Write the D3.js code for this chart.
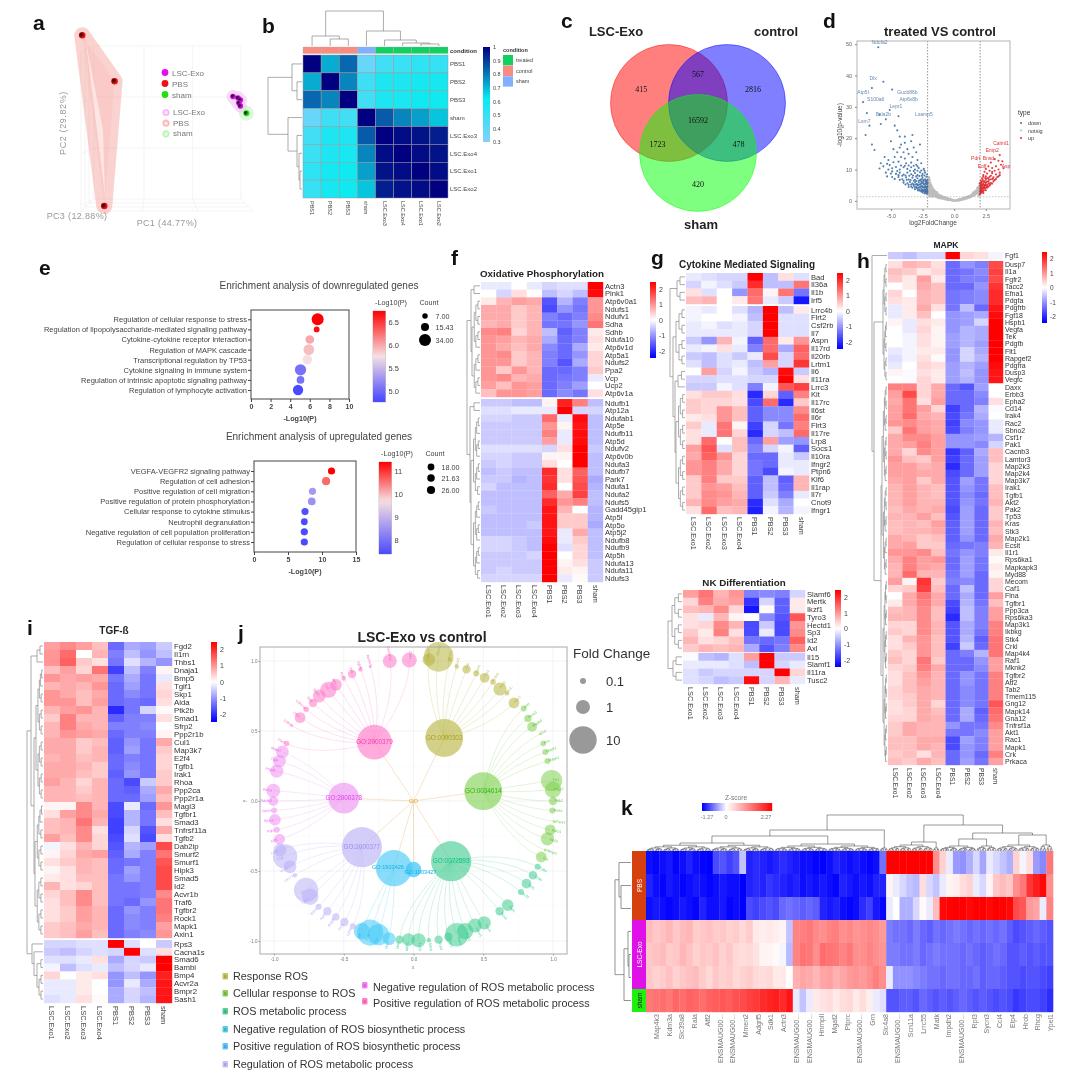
<!DOCTYPE html>
<html>
<head>
<meta charset="utf-8">
<script src="https://d3js.org/d3.v7.min.js"></script>
<style>
html, body { margin: 0; background: #fff; }
svg { display: block; filter: blur(0.5px); }
text { font-family: "Liberation Sans", Arial, sans-serif; }
</style>
</head>
<body>
<svg id="fig" width="1080" height="1086"></svg>
<script>
// ---------- data ----------
var panelLetters = [["a",33,30],["b",262,33],["c",561,28],["d",823,28],["e",39,275],["f",451,265],["g",651,265],["h",857,268],["i",27,635],["j",238,640],["k",621,815]];

var pcaGroups = ["LSC-Exo", "PBS", "sham"];
var pcaColors = ["#e010f0", "#f01010", "#20e010"];
var pbsPC1 = [-58, -36, -43], pbsPC2 = [57, 27, -54.6];
var exoPC1 = [44.6, 48, 49.6, 48.6, 49.6], exoPC2 = [17, 16, 14.7, 12.7, 10.8];
var shamPC1 = [53.7], shamPC2 = [6];

var sampleOrder = ["PBS1","PBS2","PBS3","sham","LSC.Exo3","LSC.Exo4","LSC.Exo1","LSC.Exo2"];
var sampleCondition = ["control","control","control","sham","treated","treated","treated","treated"];
var conditionNames = ["treated","control","sham"];
var conditionColors = ["#10d060","#f98c80","#80b0ff"];
var corrMatrix = [
  [1,.72,.83,.38,.47,.49,.52,.5],
  [.72,1,.78,.48,.56,.56,.58,.58],
  [.83,.78,1,.47,.56,.57,.59,.59],
  [.38,.48,.47,1,.85,.78,.74,.68],
  [.47,.56,.56,.85,1,.98,.97,.95],
  [.49,.56,.57,.78,.98,1,.98,.97],
  [.52,.58,.59,.74,.97,.98,1,.98],
  [.5,.58,.59,.68,.95,.97,.98,1]];

var vennSets = ["LSC-Exo","control","sham"];
var vennCounts = [["415",-.48,.25],["567",.5,.5],["2816",1.45,.25],["16592",.5,-.3],["1723",-.2,-.7],["478",1.2,-.7],["420",.5,-1.4]];

var volcDown = [[-6,49],[-5.6,38],[-6.5,36],[-4.9,35.5],[-7.2,31.5],[-6.9,28],[-5.9,27.5],[-5.1,29],[-4.4,27],[-5.4,26],[-5.8,24.5],[-6.7,24],[-4.7,24],[-7,21],[-6.5,18],[-6.3,16.2],[-4.5,22.5],[-4.3,20.5],[-3.9,20.5],[-3.3,21],[-5,19],[-4.2,18],[-3.9,18.5],[-3.4,19],[-4.3,17],[-3.7,16.5],[-2.7,18],[-3.2,17],[-4.8,16.5],[-4.5,15.5],[-4,15.5],[-3.6,15],[-3,15.5],[-5.5,14],[-5.2,13],[-4.7,14],[-4.2,14],[-3.9,13.5],[-3.3,14],[-2.9,13],[-5.8,12],[-5.3,11.8],[-4.8,12.3],[-4.4,12.5],[-3.8,12],[-3.4,12.2],[-3,11.5],[-2.6,12],[-5.9,10.3],[-5.2,10],[-4.9,10.4],[-4.6,10.8],[-4.3,10],[-4,10.7],[-3.7,10.2],[-3.4,10.7],[-3.1,10],[-2.8,10.5],[-2.4,10.2],[-5,8.7],[-4.6,8.6],[-4.3,9],[-4,8.4],[-3.7,9],[-3.4,8.5],[-3.1,8.9],[-2.9,8.2],[-2.7,9.1],[-2.5,8.6],[-2.3,9],[-4.7,7],[-4.4,7.6],[-4.1,6.9],[-3.8,7.5],[-3.6,6.8],[-3.3,7.4],[-3.1,6.7],[-2.9,7.2],[-2.7,6.6],[-2.5,7.4],[-2.3,6.9],[-2.2,7.7],[-4,5.8],[-3.7,5.6],[-3.5,6],[-3.3,5.5],[-3.1,5.9],[-2.95,5.4],[-2.8,5.9],[-2.65,5.3],[-2.5,5.9],[-2.4,5.2],[-2.25,5.8],[-2.15,5.2],[-3.4,4.6],[-3.2,4.8],[-3,4.5],[-2.85,4.9],[-2.7,4.4],[-2.55,4.8],[-2.45,4.3],[-2.3,4.7],[-2.2,4.2],[-2.12,4.6],[-2.9,3.8],[-2.75,3.6],[-2.6,3.9],[-2.5,3.5],[-2.35,3.8],[-2.25,3.4],[-2.15,3.8],[-2.6,3],[-2.45,3.1],[-2.3,2.9],[-2.2,3.1],[-2.12,2.8],[-2.4,6.3],[-2.6,6.2],[-2.18,6.2],[-2.35,2.4],[-2.18,2.3]];
var volcDownDense = [[-4.9,9.4],[-4.5,9.5],[-4.2,11.3],[-3.9,11.2],[-3.6,11.3],[-3.2,11.2],[-2.9,11],[-3.5,9.6],[-3.2,9.5],[-2.9,9.6],[-2.6,9.7],[-2.35,9.6],[-4.4,8.2],[-4.1,8],[-3.85,8.1],[-3.55,8],[-3.25,8.1],[-3,7.8],[-2.75,7.9],[-2.55,8],[-2.35,8.1],[-2.15,8.4],[-4.3,6.7],[-4,6.4],[-3.75,6.7],[-3.45,6.6],[-3.2,6.4],[-3,6.3],[-2.8,6.4],[-2.6,6.9],[-2.45,6.7],[-2.25,6.4],[-2.13,6.7],[-3.85,5.2],[-3.6,5.1],[-3.4,5.2],[-3.2,5.2],[-3.05,5.2],[-2.9,5.1],[-2.75,5.2],[-2.6,5.6],[-2.45,5.6],[-2.3,5.4],[-2.2,5.6],[-2.1,5.8],[-3.6,4.4],[-3.3,4.2],[-3.1,4.3],[-2.95,4.2],[-2.8,4.2],[-2.65,4.6],[-2.5,4.4],[-2.35,4.3],[-2.25,4.5],[-2.15,4.4],[-3.1,3.7],[-2.85,3.3],[-2.7,3.2],[-2.55,3.4],[-2.4,3.3],[-2.28,3.5],[-2.18,3.4],[-2.12,3.2],[-2.5,2.7],[-2.28,2.6],[-2.14,2.5],[-5.4,9],[-5.6,11],[-5.1,11.4],[-5.3,7.8],[-4.9,7.6]];
var volcNotsig = [[-2,7.5],[-1.95,6.5],[-1.9,5.6],[-2,4.8],[-1.85,4.3],[-2,3.6],[-1.8,3.4],[-1.95,2.7],[-1.75,2.7],[-1.9,2],[-1.6,3],[-1.65,2.2],[-1.55,1.9],[-1.7,4],[-1.5,2.6],[-1.45,1.6],[-1.4,2.1],[-1.3,1.5],[-1.3,2],[-1.2,1.3],[-1.15,1.7],[-1.05,1.1],[-1,1.5],[-.9,.9],[-.85,1.2],[-.75,.75],[-.7,1],[-.6,.6],[-.55,.8],[-.45,.45],[-.4,.6],[-.3,.3],[-.25,.4],[-.15,.15],[-.1,.2],[0,.05],[.1,.1],[.2,.15],[.3,.25],[.4,.35],[.5,.5],[.6,.6],[.7,.75],[.8,.85],[.9,1],[1,1.15],[1.1,1.3],[1.2,1.4],[1.3,1.6],[1.4,1.9],[1.5,2.1],[1.6,2.4],[1.7,2.8],[1.8,3.1],[1.9,3.7],[1.95,4.3],[1.2,1.1],[1.4,1.5],[1.6,1.9],[1.75,2.3],[1.9,2.6],[1.95,3.2],[1,.85],[.8,.6],[.6,.4],[.4,.2],[-.5,.3],[-.7,.5],[-.9,.65],[-1.1,.85],[-1.25,1],[-1.4,1.25],[-1.6,1.5],[-1.8,1.9],[-1.95,1.5],[-1.75,1.4],[-2,2.2],[-2.05,3],[-2.02,4],[-2.03,5.5],[-2.05,6.8],[-1.85,5],[-1.7,3.3],[-1.55,2.4],[-1.35,2.6],[2,2],[1.95,1.7],
[-2.05,2.5],[-2.05,3.5],[-2.02,4.5],[-2.03,6],[-2,7],[-1.95,5],[-1.9,4.5],[-1.9,3],[-1.85,3.7],[-1.85,2.5],[-1.8,4.7],[-1.8,2.2],[-1.75,3.1],[-1.7,2],[-1.65,3.4],[-1.65,2.7],[-1.6,2.1],[-1.55,3.2],[-1.5,2.2],[-1.45,2.8],[-1.45,1.9],[-1.35,1.8],[-1.25,1.8],[-1.2,1.1],[-1.1,1.5],[-1,1.2],[-.95,1.3],[-.8,1],[-.65,.75],[-.35,.4],[.25,.12],[.35,.35],[.55,.35],[.7,.55],[.9,.75],[1.05,.95],[1.15,1.45],[1.25,1.25],[1.35,1.8],[1.45,1.7],[1.5,2.6],[1.55,1.9],[1.65,2.2],[1.65,3],[1.7,2.4],[1.8,2.6],[1.8,3.6],[1.85,2.8],[1.85,4.2],[1.9,3.2],[1.95,2.4],[1.95,3.7],[2,4.7],[2,3],[2,5.5]];
var volcUp = [[3.6,14.6],[3.2,13.3],[3.5,12.8],[2.9,12.2],[3.7,11.5],[3.3,11],[2.7,11],[3,10.5],[3.5,10],[3.9,10.4],[2.5,10.2],[3.2,9.6],[2.8,9.6],[2.4,9.3],[3.6,9],[3,8.8],[2.6,8.7],[3.3,8.4],[2.9,8],[2.3,8.2],[3.5,7.8],[2.5,7.8],[3.1,7.5],[2.7,7.3],[2.2,7.2],[3.3,7],[2.9,6.9],[2.5,6.7],[2.35,6.3],[2.1,6.4],[3.1,6.2],[2.7,6.2],[2.9,5.7],[2.5,5.8],[2.3,5.6],[2.1,5.5],[2.65,5.2],[2.45,5],[2.25,4.9],[2.1,4.7],[2.8,4.9],[2.55,4.4],[2.35,4.4],[2.15,4.2],[2.05,4],[2.45,3.9],[2.25,3.8],[2.1,3.5],[2.35,3.4],[2.18,3.1],[2.05,3],[2.25,2.9],[2.1,2.5],[2.03,2.2],[2.4,6],[2.6,6.1],[2.2,5.2],[2.4,4.7],[2.15,5.9],[2.25,6.8],[2.6,4.8],[3.8,12.6],[2.75,5.6],[2.45,7.3],[2.05,4.9],
[2.3,3.2],[2.15,2.7],[2.3,2.5],[2.15,3.7],[2.4,4.2],[2.5,3.4],[2.6,4.2],[2.7,4.5],[2.75,6.7],[2.85,5.2],[3,5.5],[3.05,7],[3.2,6.6],[3.4,7.6],[3.6,8.2],[2.35,5.2],[2.2,6.2],[2.5,5.3],[2.3,7.7],[2.6,7.2],[2.8,7.7],[3,9.3],[2.2,4.4],[2.08,3.3],[2.1,4.2],[2.12,5.1],[2.05,5.6],[2.3,4.1]];
var volcLabelsDown = [["Ndufa2",-5.9,50],["Dlx",-6.4,38.5],["Atp5l",-7.2,34],["Gucb86b",-3.7,34.2],["S100a6",-6.2,32],["Atp6v8b",-3.6,31.8],["Lepr1",-4.6,29.5],["Bxla2b",-5.6,27.2],["Lsamp5",-2.4,27.2],["Lsm7",-7.1,24.8]];
var volcLabelsUp = [["Calml1",3.7,17.8],["Emp2",3,15.5],["Pdrt",1.7,13],["Bnsd",2.7,13],["Eoff",2.2,10.6],["Asp",4.1,10.6]];

var enrichDownCats = ["Regulation of cellular response to stress","Regulation of lipopolysaccharide-mediated signaling pathway","Cytokine-cytokine receptor interaction","Regulation of MAPK cascade","Transcriptional regulation by TP53","Cytokine signaling in immune system","Regulation of intrinsic apoptotic signaling pathway","Regulation of lymphocyte activation"];
var enrichDownP = [6.8,6.7,6,5.9,5.75,5.05,5.05,4.8];
var enrichDownCount = [34,8,18,27,21,30,14,25];
var enrichUpCats = ["VEGFA-VEGFR2 signaling pathway","Regulation of cell adhesion","Positive regulation of cell migration","Positive regulation of protein phosphorylation","Cellular response to cytokine stimulus","Neutrophil degranulation","Negative regulation of cell population proliferation","Regulation of cellular response to stress"];
var enrichUpP = [11.4,10.6,8.6,8.5,7.5,7.4,7.4,7.4];
var enrichUpCount = [20,26,20,23,20,18,20,20];

var heatSamples = ["LSC.Exo1","LSC.Exo2","LSC.Exo3","LSC.Exo4","PBS1","PBS2","PBS3","sham"];

var oxGenes = ["Actn3","Pink1","Atp6v0a1","Ndufs1","Ndufv1","Sdha","Sdhb","Ndufa10","Atp6v1d","Atp5a1","Ndufs2","Ppa2","Vcp","Ucp2","Atp6v1a","Ndufb1","Atp12a","Ndufab1","Atp5e","Ndufb11","Atp5d","Ndufv2","Atp6v0b","Ndufa3","Ndufb7","Park7","Ndufa1","Ndufa2","Ndufs5","Gadd45gip1","Atp5l","Atp5o","Atp5j2","Ndufb8","Ndufb9","Atp5h","Ndufa13","Ndufa11","Ndufs3"];
var oxValues = [
[-.2,-.2,0,-.2,-.4,-.3,-.3,2.4],[0,-.4,.3,0,-.6,-.4,-.6,2.3],[.2,.7,.9,.8,-1.6,-.7,-1.2,1],[.8,.8,.5,.7,-1.7,-1,-1.3,1],[.8,.8,.5,.7,-1.2,-1.4,-1.2,1.1],[.7,.8,.5,.7,-1.3,-1.3,-1,1.3],[1.1,1.2,.4,.7,-.6,-1.5,-1.2,.2],[1,.9,.7,.8,-.8,-1.4,-1.2,.3],[1,.8,.6,.8,-1.1,-1.4,-.8,.2],[1,1.1,.5,.7,-1.2,-1.4,-1,.4],[1,1,.5,.7,-1.2,-1.6,-.8,.4],[1,.5,1,.7,-1.4,-1.4,-1.2,.5],[1,1.1,.7,.8,-1.4,-1.3,-1.2,-.2],[.9,.6,1,.9,-1.4,-1.2,-.9,0],[.6,1,1,.9,-1.4,-1.1,-1.3,.3],
[-.5,-.5,-.6,-.6,.1,2.1,1.2,-.6],[-.3,-.3,-.2,-.2,-.2,2.4,-.4,-.4],[-.4,-.4,-.5,-.5,1.4,-.2,2.3,-.6],[-.5,-.5,-.5,-.5,1,.1,2.2,-.6],[-.5,-.5,-.5,-.5,1.2,-.2,2.3,-.6],[-.5,-.5,-.5,-.5,.9,-.2,2.3,-.6],[-.3,-.3,-.3,-.3,-.4,.3,2.4,-.5],[-.4,-.4,-.5,-.5,.1,.1,2.4,-.6],[-.5,-.4,-.5,-.5,.3,0,2.4,-.6],[-.6,-.5,-.6,-.6,2,.3,1.5,-.6],[-.5,-.5,-.7,-.6,1.9,.3,1.6,-.8],[-.4,-.6,-.6,-.6,2,0,1.7,-.7],[-.6,-.6,-.6,-.6,1.5,.8,1.8,-.6],[-.6,-.6,-.6,-.6,2,1,1.2,-.6],[-.5,-.6,-.6,-.6,2.2,.7,0,-.7],[-.6,-.6,-.6,-.6,2.2,.5,.5,-.7],[-.6,-.6,-.6,-.5,2.2,.5,.5,-.8],[-.6,-.6,-.6,-.6,2.2,-.2,.8,-.6],[-.4,-.4,-.5,-.6,2.3,-.2,.5,-.6],[-.4,-.4,-.5,-.6,2.4,-.3,.4,-.6],[-.5,-.5,-.5,-.4,2.4,0,.4,-.6],[-.5,-.5,-.5,-.5,2.4,.1,.3,-.5],[-.5,-.4,-.5,-.5,2.4,.2,.1,-.5],[-.4,-.4,-.4,-.4,2.4,-.2,.05,-.5]];

var cytoGenes = ["Bad","Il36a","Il1b","Irf5","Lrrc4b","Flrt2","Csf2rb","Il7","Aspn","Il17rd","Il20rb","Lrtm1","Il6","Il11ra","Lrrc3","Kit","Il17rc","Il6st","Il6r","Flrt3","Il17re","Lrp8","Socs1","Il10ra","Ifngr2","Ptpn6","Klf6","Il1rap","Il7r","Cnot9","Ifngr1"];
var cytoValues = [
[-.2,-.3,-.4,-.4,2.4,-.6,.3,-.3],[-.4,-.1,-.3,-.5,2,-.6,-.6,1.3],[.3,-.3,0,-1,1.4,.1,1.3,-1.3],[.6,.7,0,.2,1.3,-.2,-.5,-2.2],
[-.1,-.2,0,-.3,-.7,2.4,-.6,.2],[-.1,0,0,-.1,-.6,2.4,-.3,-.3],[-.2,-.1,-.3,-.2,-.4,2.4,-.3,-.3],[-.2,-.2,-.2,-.2,-.4,2.4,-.3,-.3],[-.5,-1,.7,-.1,-1.5,1.4,.2,1],[-.2,-.1,.3,-.2,-1.2,1.4,-.8,1.5],[-.5,-.6,-.3,-.5,-.2,1.7,-.4,1.4],[-.3,-.6,-.3,-.2,-.6,.9,-.4,1.9],[0,.9,-.4,-.1,-.5,-.7,2.3,-.5],[-.4,-.4,-.3,-.3,-.4,-.4,2.4,.3],[-.5,-.5,-.1,-.3,-1.2,-.1,1.6,1.8],[.3,.5,.5,.3,-2,.4,-1.5,1.2],[.5,.4,.4,.3,-1.7,1.4,-2,.5],[.5,.4,1,.6,-1.5,-1.1,-1.1,1.1],[.2,.3,1,.6,-1.5,-1.1,-1.1,1.4],[.5,-.2,1.3,.1,-1.8,-.4,-1.3,1.2],[.3,-.2,1.3,.4,-2,-.4,-.6,1.4],[.3,1.4,0,.6,-1.4,.9,-.9,-1],[.9,1.6,-.3,.6,-1.2,-.4,-.1,-1.5],[.8,1.5,1,.4,-1.4,-1.4,-.2,-.5],[1,1.2,.8,.4,-1.3,-1.4,-.2,-.2],[1,1.2,.8,.4,-1.3,-1.7,-.1,-.2],[.5,1.2,.5,.5,-1.5,-.6,-1.5,.7],[.5,1,.9,.6,-1.5,-.6,-1.4,.7],[.5,1.1,1,.7,-1.5,-.5,-1.2,-.2],[.7,1.1,.9,.8,-2,-.3,-.8,0],[.3,1.4,.6,.7,-2.1,-.1,-.7,-.1]];

var nkGenes = ["Slamf6","Mertk","Ikzf1","Tyro3","Hectd1","Sp3","Id2","Axl","Il15","Slamf1","Il11ra","Tusc2"];
var nkValues = [
[.9,1.3,.7,1,-1.2,-1.1,-1.2,-.4],[.4,1.2,.8,.9,-1.9,-.4,-1.5,.2],[.6,.7,1.1,.4,-2.2,.05,-1.5,.2],[.3,-.2,.7,.1,0,-1.1,-1.6,1.6],[.3,.4,1.1,.7,-1.7,-.5,-1.7,1],[.5,.2,1.2,.3,-1.7,-.2,-1.7,1.1],[.7,.3,.4,.6,-1.3,-1.4,-1.3,1.5],[.5,.7,.6,.7,-.8,-1.6,-1.2,1.1],
[-.05,-.6,-.7,-.3,.9,2.4,-.5,-.5],[-.2,-.2,-.2,-.3,-.6,2.4,-.4,-.2],[-.3,-.5,-.4,-.4,-.4,-.4,2.4,.4],[-.3,-.4,-.6,-.5,2.3,-.4,.7,-.2]];

var mapkGenes = ["Fgf1","Dusp7","Il1a","Fgfr2","Tacc2","Efna1","Pdgfa","Pdgfrb","Fgf18","Hspb1","Vegfa","Tek","Pdgfb","Flt1","Rapgef2","Pdgfra","Dusp3","Vegfc","Daxx","Erbb3","Epha2","Cd14","Irak4","Rac2","Sbno2","Csf1r","Pak1","Cacnb3","Lamtor3","Map2k3","Map2k4","Map3k7","Irak1","Tgfb1","Akt2","Pak2","Tp53","Kras","Stk3","Map2k1","Ecsit","Il1r1","Rps6ka1","Mapkapk3","Myd88","Mecom","Caf1","Flna","Tgfbr1","Ppp3ca","Rps6ka3","Map3k1","Ikbkg","Stk4","Crkl","Map4k4","Raf1","Mknk2","Tgfbr2","Atf2","Tab2","Tmem115","Gng12","Mapk14","Gna12","Tnfrsf1a","Akt1","Rac1","Mapk1","Crk","Prkaca"];
var mapkValues = [
[-.5,-.6,-.4,-.4,2.4,.4,.3,-.1],
[.3,.7,.6,.3,-1.4,-1,-1.2,1.7],[.6,.5,.2,.4,-1.4,-1.3,-1.1,1.8],[.5,.2,.9,.2,-1.4,-1.2,-1.2,1.7],[0,.2,.8,.6,-1.4,-1.4,-1,1.9],[.4,0,.7,.6,-1.3,-1.2,-1.1,2],[.3,.2,.7,.6,-1.3,-1.2,-1.1,2],[-.2,.2,.8,.3,-1.3,-.6,-1.4,2.2],[-.2,.2,.6,0,-1,-.9,-.8,2.3],[.1,-.2,.3,.2,-1,-.9,-.4,2.4],[0,-.2,.4,.1,-1,-.7,-.8,2.4],[0,-.1,.3,.1,-.9,-.7,-.8,2.4],[0,-.1,.3,.1,-.9,-.7,-.9,2.4],[-.2,-.1,.2,.2,-1,-.4,-.8,2.4],[-.3,-.1,.3,.05,-1,-.4,-.7,2.4],[-.2,0,.4,.3,-.9,-.7,-.9,2.3],[.1,-.05,.3,.2,-.9,-.6,-1,2.2],[0,-.05,.4,.2,-.9,-.7,-1,2.2],
[1.2,1.2,.4,.8,-1.4,-1.6,-.9,0],[.9,1.7,.4,.8,-1.4,-1.4,-1.1,0],[.8,1.3,.3,.9,-1.4,-1.4,-1.2,.3],[.9,1.3,.9,.4,-1.8,-1.4,-.7,-.05],[.9,1.4,.8,.7,-1.7,-1.3,-.8,0],[1,1.1,.9,.8,-1.8,-1.1,-1,-.2],[.5,1.3,.9,.8,-1.7,-1.2,-1,-.2],[.8,1.1,1.1,.9,-1,-1,-.9,-.7],[.8,.9,1.2,.9,-1,-1,-1.1,-.4],
[.8,.4,1.1,.9,-1.9,-1.5,-.8,.6],[1,.6,.5,.9,-1.8,-1.4,-.9,.6],[.9,.9,.7,.8,-2,-1.4,-.9,.4],[.9,.9,.8,.8,-1.7,-1.4,-.9,.4],[.8,.9,.5,.8,-1.6,-.9,-1.3,.4],[.7,.9,.7,.6,-1.6,-1,-1.3,.6],[.7,.9,.7,.6,-1.6,-1.1,-1.4,.6],[.7,.9,.7,.7,-1.6,-1,-1.3,.7],[.6,.8,.7,.8,-1.7,-.9,-1.4,.5],[.7,.7,.9,.6,-1.6,-.9,-1.4,.5],[.6,.7,.6,.9,-1.5,-.9,-1.4,.7],[.6,.7,.7,.8,-1.5,-.9,-1.4,.6],[.8,.7,.5,.6,-1.5,-1,-1.4,.8],[.8,.9,.5,.5,-1.4,-1.3,-1.2,.7],[1,1,1.1,.6,-1.3,-1,-1.2,.2],[.8,1.2,.9,1,-1.4,-.9,-1.3,.05],[.7,1.2,.9,.8,-1.4,-.9,-1.3,.2],[.7,1.4,.7,.7,-1.3,-.9,-1.4,.1],
[.9,.1,1.9,.5,-1.2,-1.1,-1.4,.4],[.4,.5,1.8,.6,-1.4,-.6,-1.4,.4],[0,.8,1.3,.8,-1.4,-.8,-1.4,.9],[.2,.8,1.2,.8,-1.7,-.7,-1.3,.6],[.6,.7,1.1,.6,-1.8,-.6,-1.2,.9],[.7,.7,1.1,.6,-2,-.6,-1.2,.9],[.4,.4,1.1,.7,-1.6,-.8,-1.2,1.2],[.5,.4,1.1,.7,-1.6,-.8,-1.3,1.2],[.3,.7,1,.6,-1.6,-.7,-1.5,1.3],[.3,.5,1,.6,-1.8,-.5,-1.4,1.3],[.5,.4,1,.6,-1.4,-1.2,-.7,1.3],[.6,.4,1.3,.5,-1.4,-1.4,-1,.9],[.4,.5,1.2,.8,-1.4,-1.4,-1.1,.9],[.3,.6,1,.7,-1.4,-1,-1.3,1.2],[.3,.6,.9,.7,-1.4,-1,-1.3,1.2],[.4,.6,.8,.7,-1.4,-1.1,-1.3,1.2],[.4,.5,.8,.7,-1.4,-1.1,-1.3,1.2],[.3,.5,.8,.4,-1.4,-1.1,-1.3,1.6],[.3,.4,.8,.6,-1.4,-.8,-1.5,1.4],[.4,.4,.8,.7,-1.4,-.8,-1.4,1.3],[.5,.8,.7,.7,-1,-1.3,-1.3,1.1],[.5,.8,.7,.7,-1.3,-1.3,-1.1,.9],[.6,.6,.8,.8,-1.7,-.9,-1.2,.9],[.6,.6,.8,.7,-1.7,-1,-1.2,.9],[.5,.6,.3,.7,-1.4,-1,-1.4,1.2],[.6,.5,.8,.6,-1.4,-.9,-1.3,.9]];

var tgfGenes = ["Fgd2","Il1rn","Thbs1","Dnaja1","Bmp5","Tgif1","Skp1","Aida","Ptk2b","Smad1","Sfrp2","Ppp2r1b","Cul1","Map3k7","E2f4","Tgfb1","Irak1","Rhoa","Ppp2ca","Ppp2r1a","Magi3","Tgfbr1","Smad3","Tnfrsf11a","Tgfb2","Dab2ip","Smurf2","Smurf1","Hipk3","Smad5","Id2","Acvr1b","Traf6","Tgfbr2","Rock1","Mapk1","Axin1","Rps3","Cacna1s","Smad6","Bambi","Bmp4","Acvr2a","Bmpr2","Sash1"];
var tgfValues = [
[.9,1.1,.9,.6,-1.4,-.8,-.9,-.5],[1,1.4,0,.7,-1.2,-.6,-1,-.6],[1,1.5,.5,.3,-1.3,-.3,-.7,-1],[.6,.9,.4,1.3,-1.8,-.6,-1.2,.1],[1,.8,.9,.8,-1.3,-.8,-1.3,-.2],[.7,.8,.7,1,-1.4,-.9,-1.3,.3],[1,.8,.6,.8,-1.4,-1.1,-1.3,.4],[1,1,.6,.9,-1.4,-1.3,-1.4,.3],[.7,.9,1,.7,-2,-1.3,-.4,.05],[.5,1.2,.7,.7,-1.5,-1.2,-1.2,.3],[.7,1.2,.8,.7,-1.2,-1.2,-1.1,0],[.7,1,.9,.8,-1.4,-1.2,-1.2,.1],[.8,.8,.5,.6,-1.5,-1,-1.3,.8],[.8,.8,.5,.7,-1.5,-.9,-1.3,.5],[.7,.8,.6,.7,-1.4,-1.2,-1.3,.4],[.8,.8,.7,.5,-1.4,-1.1,-1.3,.4],[.8,.8,.6,.5,-1.5,-1,-1.3,.5],[.9,.7,.4,.7,-1.4,-1.7,-.5,.5],[.7,.7,.5,.7,-1.4,-1.5,-.8,.8],[.7,.7,.6,.7,-1.4,-1.4,-.9,.6],[.1,.1,1.1,.7,-1.7,-.2,-1.4,1],[.3,.9,1.1,.8,-1.7,-.7,-1.3,.6],[.6,.7,1.3,.7,-1.8,-.7,-1.3,.3],[.6,.7,1.1,.3,-1.8,-.4,-1.6,.8],[.9,.6,1.1,.4,-1.7,-.3,-1.7,.3],[-.1,.3,.7,.4,-1.6,-.7,-.9,1.7],[.1,.4,.8,.9,-1.5,-.8,-1.2,1.3],[.3,.5,.7,.6,-1.4,-1.3,-1.2,1.6],[.1,.3,.7,.6,-1.4,-.9,-1.2,1.7],[.2,.3,.6,.6,-1.3,-1,-1.2,1.7],[.7,.3,.4,.6,-1.3,-1.3,-1.2,1.7],[.4,.6,1.1,.6,-1.3,-1.3,-1.2,1.1],[.3,.6,1.1,.6,-1.3,-1.4,-1,1.3],[.3,.5,.9,.7,-1.4,-1,-1.2,1.3],[.3,.5,.9,.7,-1.4,-1.1,-1.2,1.2],[.5,.6,.8,.7,-1.4,-1.1,-1.2,.9],[.5,.6,.9,.6,-1.4,-1.2,-1.1,1],
[-.4,-.4,-.3,-.3,2.4,-.3,0,-.5],[-.5,-.6,-.4,-.3,-.4,2.4,-.3,.3],[-.3,-.3,-.2,.3,-.8,-.4,-.5,2.4],[-.1,-.6,-.3,-.2,-.6,-.4,-.2,2.4],[.4,0,.2,.3,-1,-.6,-1,2.1],[-.2,-.2,.2,0,-1,-.2,-.8,2.2],[-.2,-.2,.2,0,-.8,-.4,-.6,2.2],[-.3,-.2,.3,.05,-.8,-.4,-.7,2.2]];

// go network: leaf = [x, y, fold change, gene]
var goNames = ["GO:0000302","GO:0034614","GO:0072593","GO:1903426","GO:1903427","GO:2000377","GO:2000378","GO:2000379"];
var goX = [.22,.5,.27,-.14,0,-.37,-.5,-.28];
var goY = [.45,.07,-.43,-.48,-.49,-.33,.02,.42];
var goSize = [60,60,90,45,1.3,90,18,35];
var goFill = ["#b8b440","#80d050","#40cc90","#40c8f8","#40c8f8","#b8b0f5","#ee90f0","#ff78c8"];
var goText = ["#a8a020","#30b810","#10c080","#10b0e0","#10b0e0","#a090f0","#e040f0","#f040b0"];
var leaves0 = [[.18,1.03,15,"Hmox1"],[.11,1.01,.7,"Nfe2l2"],[.26,1.01,.03,"Prdx1"],[.31,.96,.03,"Sod1"],[.38,.94,.2,"Cat"],[.45,.91,.1,"Gpx1"],[.51,.88,.3,"Txn1"],[.57,.85,.07,"Prdx3"],[.62,.8,.8,"Sod2"],[.67,.77,.03,"Gclc"],[.72,.7,.4,"Nqo1"]];
var leaves1 = [[.79,.66,.1,"Akt1"],[.82,.59,.15,"Foxo3"],[.85,.53,.3,"Mapk8"],[.91,.48,.01,"Jun"],[.93,.41,.07,"Fos"],[.945,.35,.1,"Mapk1"],[.96,.285,.1,"Mapk3"],[.99,.146,3.5,"Fn1"],[1,.08,1.5,"Ptgs2"],[1,0,.2,"Pdk2"],[.995,-.067,.1,"Pink1"],[1.01,-.146,.01,"Park7"],[.98,-.206,.4,"Parp1"],[.96,-.27,.8,"Trp53"],[.945,-.35,.01,"Mmp3"],[.916,-.4,.4,"Gsr"]];
var leaves2 = [[.89,-.47,.1,"Cyba"],[.856,-.53,.2,"Cybb"],[.81,-.59,.3,"Ncf1"],[.77,-.65,.1,"Ncf2"],[.675,-.744,.5,"Ncf4"],[.617,-.787,.2,"Nox1"],[.507,-.87,.8,"Nox4"],[.44,-.89,1,"Duox1"],[.37,-.93,1.5,"Rac1"],[.31,-.955,5,"Rac2"],[.25,-.97,.2,"Ucp2"],[.18,-.99,.2,"Ucp3"],[.11,-.995,.03,"Sdhb"],[.036,-.995,1,"Tp53"],[-.036,-.99,.7,"Aifm2"],[-.1,-.99,.2,"Mpo"]];
var leaves3 = [[-.175,-.983,.7,"Nos2"],[-.25,-.955,3.5,"Egfr"],[-.31,-.94,8,"Tlr4"],[-.37,-.93,1.5,"Il1b"]];
var leaves5 = [[-.435,-.895,.1,"Cd36"],[-.495,-.864,.2,"Sirt1"],[-.557,-.828,.15,"Pdgfb"],[-.617,-.787,.2,"Agtr1"],[-.68,-.756,.1,"Edn1"],[-.74,-.684,1.5,"Tgfb1"],[-.77,-.636,6,"Il6"],[-.85,-.53,.03,"Cd177"],[-.885,-.47,.7,"Vegfa"],[-.92,-.397,6,"Ctgf"],[-.957,-.35,.7,"Lcn2"]];
var leaves6 = [[-.96,-.273,.4,"Nrf1"],[-.98,-.206,.1,"Pgk1"],[-.993,-.134,.5,"Ppara"],[-.998,-.067,.07,"Becn1"],[-1.005,0,.3,"Ndufs4"],[-1.005,.074,1,"Prkca"],[-.98,.213,.8,"Phgdh"],[-.96,.285,.7,"Tigar"],[-.94,.35,.7,"Mapk7"]];
var leaves7 = [[-.91,.41,.07,"Pax2"],[-.873,.54,.01,"Cdk1"],[-.813,.596,.4,"Cflar"],[-.77,.655,.07,"Cdkn1a"],[-.72,.7,.2,"Bcl2"],[-.675,.75,.7,"Stat3"],[-.61,.794,1.5,"Tnf"],[-.555,.83,.5,"Atm"],[-.5,.875,.03,"Ppif"],[-.44,.907,.2,"Tlr6"],[-.38,.94,.03,"Itgb6"],[-.31,.96,.01,"Romo1"],[-.17,1,1,"Gadd45a"],[-.03,1.007,1.2,"Cd44"]];
var goLeaves = [leaves0, leaves1, leaves2, leaves3, [], leaves5, leaves6, leaves7];
var goLegend1 = ["Response ROS","Cellular response to ROS","ROS metabolic process","Negative regulation of ROS biosynthetic process","Positive regulation of ROS biosynthetic process","Regulation of ROS metabolic process"];
var goLegend2 = ["Negative regulation of ROS metabolic process","Positive regulation of ROS metabolic process"];
var goLegendColors1 = ["#b8b440","#70c030","#30c080","#30c0d8","#40b0f8","#b8b0f5"];
var goLegendColors2 = ["#ee60f0","#ff60b8"];
var foldLegend = [.1,1,10];

var zGroups = [["PBS",3,"#d6400f"],["LSC-Exo",3,"#e010e8"],["sham",1,"#20f010"]];
var zValues = [
[-1.2,-1.25,-1.2,-1.15,-1.25,-1.2,-1.1,-1.2,-1.25,-1.27,-.9,-.85,-.95,-.85,-.3,-1.1,-1.05,-1.1,-1.15,-1.1,-1.05,-1.1,-1.15,-1.2,-1.2,-1.25,-1.27,-1.2,-1.1,-1.15,-1.2,-1.15,-1.2,-1.25,-1.2,-.7,2.27,2.27,2.27,2.27,2.27,2.27,2.27,1,.4,-.1,-.5,-.55,-.4,-.2,-.45,-.1,-.2,-.3,-.4,.4,-.05,.3,-.5,-.6,1.2],
[-1.1,-1.2,-1.25,-1.15,-1.2,-1.25,-1.2,-1.15,-1.2,-1.25,-1.2,-1.15,-1.2,-1.2,-1.27,-1.1,-1.05,-1.1,-1,-1.05,-1.1,-1.15,-1.1,-1.2,-1.15,-1.2,-1.15,-1.2,-1.25,-1.1,-1.15,-1.2,-1.15,-1.2,-1.1,-1.1,.1,-.1,-.2,-.3,-.35,.3,-.2,-.3,-.1,.1,.15,.3,.4,-.1,-.2,.1,.5,.6,.5,1,1.2,1.8,2,2.2,1],
[-1.2,-1.15,-1.2,-1.25,-1.2,-1.15,-1.2,-1.25,-1.1,-1.2,-1.2,-1.15,-1.25,-1.2,-1.27,-.9,-.95,-.9,-.85,-.9,-.75,-.7,-.75,-.8,-.75,-.8,-1.1,-1.15,-1.1,-1.2,-1.25,-1.2,-1.05,-.95,-1.15,-1.25,-.1,0,-.4,-.4,-.2,.05,-.1,.6,2.2,2.25,2.27,2.27,2.2,2.27,2.27,2.2,2.27,2.25,2.2,1.6,1.5,.9,.8,-.1,1.1],
[.6,.5,.55,.65,.5,.6,.65,.45,.5,.55,.45,.5,.4,.45,.35,.45,.2,.15,.2,.15,.1,-.3,1.1,1.15,1.2,1.05,1,1.1,1.15,1,1.05,.95,1,1.05,1,.9,-.65,-.7,-.7,-.75,-.65,-.75,-.8,-.7,-.75,-.7,-.65,-.7,-.75,-.7,-.75,-.7,-.75,-.7,-.8,-.9,-.85,-.8,-.75,-.8,-.85],
[.5,.55,.6,.45,.5,.65,.55,.4,.5,.45,.55,.4,.5,.35,.3,.35,.25,.1,.1,.05,-.05,-.35,1.1,1.25,1.2,1,1.3,1.25,1.2,1.1,1.2,1,1,1.1,1,.95,-.65,-.65,-.7,-.7,-.65,-.75,-.7,-.65,-.7,-.7,-.7,-.75,-.7,-.75,-.8,-.75,-.7,-.75,-.85,-.85,-.8,-.85,-.8,-.85,-.85],
[.5,.4,.45,.55,.4,.5,.55,.6,.45,.35,.5,.4,.45,.35,.4,.45,.35,.3,.35,.2,.2,0,.7,.8,.75,.65,.8,.85,.7,.8,.9,.95,.9,1,1.15,1,-.1,-.55,-.55,-.55,-.6,-.65,-.7,-.7,-.75,-.7,-.7,-.75,-.75,-.7,-.8,-.75,-.75,-.8,-.85,-.85,-.9,-.85,-.85,-.9,-.95],
[1.2,1.25,1.3,1.2,1.35,1.3,1.4,1.35,1.3,1.4,1.45,1.5,1.45,1.55,1.6,1.7,1.75,1.9,1.95,2,1.9,2.1,-.1,-.3,-.1,.2,.25,.3,.2,.3,.35,.2,.3,.15,-.1,-.15,-.85,-.85,-.8,-.8,-.85,-.75,-.8,-.85,-.8,-.85,-.8,-.75,-.8,-.85,-.8,-.85,-.9,-.85,-.9,-1,-.95,-.9,-.9,-.95,-1.05]];
var zLabels = [["Map4k3",0],["Kdm3a",1],["Slc39a8",2],["Rala",3],["Atf2",4],["ENSMAUG00...",5],["ENSMAUG00...",6],["Mmen2",7],["Adgrf5",8],["Sdk1",9],["Actn3",10],["ENSMAUG00...",11],["ENSMAUG00...",12],["Hnrnpll",13],["Mgat2",14],["Ptprc",15],["ENSMAUG00...",16],["Grn",17],["Slc4a8",18],["ENSMAUG00...",19],["Scn11a",20],["Lrrc55",21],["Matk",22],["Impdh2",23],["ENSMAUG00...",24],["Rpl3",25],["Sycn3",26],["Ccl4",27],["Elp4",28],["Hrob",29],["Rhcg",30],["Ypel1",31]];

// ---------- helpers ----------
var svg = d3.select("#fig");
var plainFmt = function(d) { return String(d); };

function txt(g, x, y, s, size, opt) {
  opt = opt || {};
  var t = g.append("text").attr("x", x).attr("y", y).text(s)
    .attr("font-size", size)
    .attr("fill", opt.fill || "#333")
    .attr("text-anchor", opt.anchor || "start");
  if (opt.bold) t.attr("font-weight", "bold");
  if (opt.family) t.style("font-family", opt.family);
  if (opt.rot != null) t.attr("transform", "rotate(" + opt.rot + " " + x + " " + y + ")");
  if (opt.spacing) t.attr("letter-spacing", opt.spacing);
  return t;
}

var gradId = 0;
function colorbar(x, y0, y1, w, color, ticks, size) {
  var val = d3.scaleLinear().domain(color.barDomain).range([y1, y0]);
  var id = "grad" + (gradId++);
  var grad = svg.append("defs").append("linearGradient").attr("id", id).attr("x1", 0).attr("x2", 0).attr("y1", 1).attr("y2", 0);
  d3.range(0, 1.001, .05).forEach(function(t) {
    var v = color.barDomain[0] + t * (color.barDomain[1] - color.barDomain[0]);
    grad.append("stop").attr("offset", t).attr("stop-color", color(v));
  });
  svg.append("rect").attr("x", x).attr("y", y0).attr("width", w).attr("height", y1 - y0).attr("fill", "url(#" + id + ")");
  var ax = svg.append("g").attr("transform", "translate(" + (x + w) + ",0)")
    .call(d3.axisRight(val).tickValues(ticks).tickSize(0).tickPadding(3).tickFormat(color.fmt || plainFmt));
  ax.select(".domain").remove();
  ax.selectAll("text").attr("font-size", size || 7).attr("fill", "#444").style("font-family", '"Liberation Sans"');
}

// tree node = [height in px, child, child], leaf = index
function comb(a, b, h) {
  if (a === b) return a;
  if (b === a + 1) return [h * .7, a, b];
  var m = Math.floor((a + b) / 2);
  return [h, comb(a, m, h * .72), comb(m + 1, b, h * .72)];
}

function dendro(tree, pos, base, orient, stroke, width) {
  var segs = [];
  function walk(n) {
    if (typeof n === "number") return {p: pos(n), h: 0};
    var l = walk(n[1]), r = walk(n[2]);
    segs.push([[l.p, l.h], [l.p, n[0]], [r.p, n[0]], [r.p, r.h]]);
    return {p: (l.p + r.p) / 2, h: n[0]};
  }
  walk(tree);
  var line = d3.line().x(function(d) { return orient === "left" ? base - d[1] : d[0]; })
    .y(function(d) { return orient === "left" ? d[0] : base - d[1]; });
  svg.append("g").selectAll("path").data(segs).join("path")
    .attr("d", line).attr("fill", "none").attr("stroke", stroke || "#888").attr("stroke-width", width || .7);
}

var heatColor = d3.scaleLinear().domain([-2.4, 0, 2.4]).range(["#0000ff", "#ffffff", "#ff0000"]).clamp(true);
heatColor.barDomain = [-2.45, 2.45];

// blocks: [first row, last row, y0, y1]
function heatmap(cfg) {
  var x = d3.scaleBand().domain(heatSamples).range([cfg.x0, cfg.x1]);
  var rowY = [];
  var g = svg.append("g");
  cfg.blocks.forEach(function(b) {
    var y = d3.scaleBand().domain(d3.range(b[0], b[1] + 1)).range([b[2], b[3]]);
    d3.range(b[0], b[1] + 1).forEach(function(r) {
      rowY[r] = y(r) + y.bandwidth() / 2;
      g.selectAll(null).data(cfg.values[r]).join("rect")
        .attr("x", function(d, i) { return x(heatSamples[i]); })
        .attr("y", y(r))
        .attr("width", x.bandwidth() + .2)
        .attr("height", y.bandwidth() + .2)
        .attr("fill", function(d) { return heatColor(d); });
      txt(g, cfg.x1 + 2, rowY[r] + cfg.font * .36, cfg.genes[r], cfg.font, {fill: "#333"});
    });
  });
  var last = cfg.blocks[cfg.blocks.length - 1][3];
  heatSamples.forEach(function(s) {
    var cx = x(s) + x.bandwidth() / 2 - cfg.font * .36;
    txt(g, cx, last + 3, s, cfg.font - .3, {rot: 90, fill: "#444"});
  });
  txt(g, cfg.titleX, cfg.titleY, cfg.title, cfg.titleSize || 9.8, {bold: true, anchor: "middle", fill: "#222"});
  dendro(cfg.tree, function(i) { return rowY[i]; }, cfg.x0 - 1, "left", "#888", .7);
}

// ---------- panel letters ----------
panelLetters.forEach(function(d) { txt(svg, d[1], d[2], d[0], 21, {bold: true, fill: "#111"}); });

// ---------- a: PCA ----------
(function() {
  var g = svg.append("g");
  var pc1 = d3.scaleLinear().domain([-50, 50]).range([94, 241]);
  var pc2 = d3.scaleLinear().domain([-50, 50]).range([199, 46]);
  var gridC = "#efefef";
  function seg(a, b, c, d) { g.append("line").attr("x1", a).attr("y1", b).attr("x2", c).attr("y2", d).attr("stroke", gridC).attr("stroke-width", .7); }
  [-50, -16, 17, 50].forEach(function(v) { seg(pc1(v), pc2(50), pc1(v), pc2(-50)); });
  [-50, -16.6, 16.6, 50].forEach(function(v) { seg(pc1(-50), pc2(v), pc1(50), pc2(v)); seg(81, pc2(v) + 6, pc1(-50), pc2(v)); });
  seg(81, 52, 81, 211); seg(85, 50, 85, 207); seg(89, 48, 89, 204);
  seg(81, 211, 253, 211); seg(85, 207, 248, 207); seg(89, 203, 244, 203);
  seg(94, 199, 81, 211); seg(241, 199, 253, 211); seg(144, 199, 142, 211); seg(193, 199, 198, 211);

  function hull(xs, ys, color, w, op) {
    var pts = xs.map(function(v, i) { return [pc1(v), pc2(ys[i])]; });
    var h = g.append("g").attr("opacity", op);
    if (pts.length > 2) {
      h.append("path").attr("d", d3.line().curve(d3.curveLinearClosed)(pts)).attr("fill", color).attr("stroke", color)
        .attr("stroke-width", w).attr("stroke-linejoin", "round");
    } else {
      h.append("circle").attr("cx", pts[0][0]).attr("cy", pts[0][1]).attr("r", w / 2).attr("fill", color);
    }
  }
  var pbsPath = d3.line().curve(d3.curveLinearClosed)(pbsPC1.map(function(v, i) { return [pc1(v), pc2(pbsPC2[i])]; }));
  g.append("g").attr("opacity", .42).append("path").attr("d", pbsPath)
    .attr("fill", "#f4948c").attr("stroke", "#f4948c").attr("stroke-width", 16).attr("stroke-linejoin", "round");
  g.append("path").attr("d", pbsPath).attr("fill", "#f8a8a4").attr("fill-opacity", .18);
  g.append("path").attr("d", "M86,42 L103,130 L105,196 L97,130 Z").attr("fill", "#fff").attr("fill-opacity", .5);
  hull(exoPC1, exoPC2, "#f0b0f4", 13, .45);
  hull(shamPC1, shamPC2, "#bdf0bd", 15, .5);

  var defs = svg.append("defs");
  pcaColors.forEach(function(c, i) {
    var rg = defs.append("radialGradient").attr("id", "ball" + i).attr("cx", .35).attr("cy", .4);
    rg.append("stop").attr("offset", 0).attr("stop-color", "#111");
    rg.append("stop").attr("offset", .55).attr("stop-color", d3.color(c).darker(1.6));
    rg.append("stop").attr("offset", 1).attr("stop-color", c);
  });
  function balls(xs, ys, i, r) {
    g.selectAll(null).data(xs).join("circle").attr("cx", function(d) { return pc1(d); })
      .attr("cy", function(d, k) { return pc2(ys[k]); }).attr("r", r).attr("fill", "url(#ball" + i + ")");
  }
  balls(pbsPC1, pbsPC2, 1, 3.3);
  balls(exoPC1, exoPC2, 0, 2.8);
  balls(shamPC1, shamPC2, 2, 3);

  pcaGroups.forEach(function(n, i) {
    g.append("circle").attr("cx", 165).attr("cy", 72.5 + i * 11).attr("r", 3.4).attr("fill", pcaColors[i]);
    txt(g, 172, 76 + i * 10.8, n, 8, {fill: "#777"});
    g.append("circle").attr("cx", 166).attr("cy", 112.5 + i * 10.7).attr("r", 2.8).attr("fill", pcaColors[i]).attr("fill-opacity", .12)
      .attr("stroke", pcaColors[i]).attr("stroke-opacity", .25).attr("stroke-width", 1.6);
    txt(g, 173, 115 + i * 10.7, n, 8, {fill: "#777"});
  });
  txt(g, 167, 226, "PC1 (44.77%)", 9, {anchor: "middle", fill: "#999", spacing: .35});
  txt(g, 77, 219, "PC3 (12.88%)", 9, {anchor: "middle", fill: "#999", spacing: .35});
  txt(g, 66, 123, "PC2 (29.82%)", 9, {anchor: "middle", fill: "#999", rot: -90, spacing: .6});
})();

// ---------- b: correlation heatmap ----------
(function() {
  var g = svg.append("g");
  var x = d3.scaleBand().domain(sampleOrder).range([303, 448]);
  var y = d3.scaleBand().domain(sampleOrder).range([55, 198]);
  var color = d3.scaleLinear().domain([.3, .62, .8, 1]).range(["#87cefa", "#05ecf0", "#0a78b8", "#000080"]);
  color.barDomain = [.3, 1];
  color.fmt = plainFmt;
  var cond = d3.scaleOrdinal().domain(conditionNames).range(conditionColors);
  corrMatrix.forEach(function(row, r) {
    g.selectAll(null).data(row).join("rect")
      .attr("x", function(d, i) { return x(sampleOrder[i]); }).attr("y", y(sampleOrder[r]))
      .attr("width", x.bandwidth()).attr("height", y.bandwidth())
      .attr("fill", function(d) { return color(d); }).attr("stroke", "#9a9a9a").attr("stroke-width", .5);
    txt(g, 450, y(sampleOrder[r]) + y.bandwidth() / 2 + 2.2, sampleOrder[r], 6, {fill: "#444"});
    txt(g, x(sampleOrder[r]) + x.bandwidth() / 2 - 2, 201, sampleOrder[r], 5.5, {fill: "#444", rot: 90});
  });
  g.selectAll(null).data(sampleOrder).join("rect").attr("x", function(d) { return x(d); }).attr("y", 47)
    .attr("width", x.bandwidth()).attr("height", 6.5).attr("stroke", "#aaa").attr("stroke-width", .3)
    .attr("fill", function(d, i) { return cond(sampleCondition[i]); });
  txt(g, 450, 53, "condition", 6, {bold: true, fill: "#333"});
  colorbar(483, 47, 142, 7, color, [.3, .4, .5, .6, .7, .8, .9, 1], 5.5);
  txt(g, 503, 52, "condition", 5.5, {bold: true, fill: "#333"});
  conditionNames.forEach(function(c, i) {
    g.append("rect").attr("x", 503).attr("y", 55 + i * 10.6).attr("width", 10).attr("height", 10.4).attr("fill", conditionColors[i]);
    txt(g, 516, 62 + i * 10.6, c, 5.5, {fill: "#444"});
  });
  var tree = [35, [10, 0, [7, 1, 2]], [15, 3, [6, 4, [3, 5, [2, 6, 7]]]]];
  dendro(tree, function(i) { return x(sampleOrder[i]) + x.bandwidth() / 2; }, 46, "top");
  var treeL = [34, [10, 0, [5, 1, 2]], [14, 3, [5, 4, [3, 5, [2, 6, 7]]]]];
  dendro(treeL, function(i) { return y(sampleOrder[i]) + y.bandwidth() / 2; }, 302, "left");
})();

// ---------- c: venn ----------
(function() {
  var g = svg.append("g");
  var u = d3.scaleLinear().domain([0, 1]).range([669, 727]);
  var v = d3.scaleLinear().domain([0, 1]).range([103, 45]);
  var cols = ["#ff0000", "#0000ff", "#00ff00"];
  var cx = [0, 1, .5], cy = [0, 0, -.86];
  vennSets.forEach(function(s, i) {
    g.append("circle").attr("cx", u(cx[i])).attr("cy", v(cy[i])).attr("r", 58.5)
      .attr("fill", cols[i]).attr("fill-opacity", .5).attr("stroke", cols[i]).attr("stroke-opacity", .55).attr("stroke-width", .8);
  });
  vennCounts.forEach(function(d) {
    txt(g, u(d[1]), v(d[2]) + 3, d[0], 8, {anchor: "middle", family: '"Liberation Serif"', fill: "#111"});
  });
  txt(g, 616, 36, vennSets[0], 13, {bold: true, anchor: "middle", fill: "#222"});
  txt(g, 776, 36, vennSets[1], 13, {bold: true, anchor: "middle", fill: "#222"});
  txt(g, 701, 229, vennSets[2], 13, {bold: true, anchor: "middle", fill: "#222"});
})();

// ---------- d: volcano ----------
(function() {
  var g = svg.append("g");
  var x = d3.scaleLinear().domain([-7.68, 4.41]).range([857, 1010]);
  var y = d3.scaleLinear().domain([-2.6, 51]).range([209, 41]);
  function dots(data, c, r) {
    g.selectAll(null).data(data).join("circle").attr("cx", function(d) { return x(d[0]); }).attr("cy", function(d) { return y(d[1]); })
      .attr("r", r).attr("fill", c).attr("fill-opacity", .9);
  }
  dots(volcNotsig, "#bdbdbd", 1.4);
  dots(volcDown.concat(volcDownDense), "#3f6fa5", 1.05);
  dots(volcUp, "#e0252a", 1.05);
  [-2.1, 2.05].forEach(function(v) {
    g.append("line").attr("x1", x(v)).attr("x2", x(v)).attr("y1", 41).attr("y2", 209).attr("stroke", "#666").attr("stroke-width", .7).attr("stroke-dasharray", "1.5,1.5");
  });
  g.append("line").attr("x1", 857).attr("x2", 1010).attr("y1", y(1.3)).attr("y2", y(1.3)).attr("stroke", "#aaa").attr("stroke-width", .7).attr("stroke-dasharray", "1.5,1.5");
  g.append("rect").attr("x", 857).attr("y", 41).attr("width", 153).attr("height", 168).attr("fill", "none").attr("stroke", "#bbb").attr("stroke-width", 1.1);
  var xa = g.append("g").attr("transform", "translate(0,209)").call(d3.axisBottom(x).tickValues([-5, -2.5, 0, 2.5]).tickSize(2).tickFormat(function(d) { return d.toFixed(1); }));
  var ya = g.append("g").attr("transform", "translate(857,0)").call(d3.axisLeft(y).tickValues([0, 10, 20, 30, 40, 50]).tickSize(2));
  [xa, ya].forEach(function(a) {
    a.select(".domain").remove();
    a.selectAll("text").attr("font-size", 5.5).attr("fill", "#666").style("font-family", '"Liberation Sans"');
    a.selectAll("line").attr("stroke", "#888");
  });
  volcLabelsDown.forEach(function(d) { txt(g, x(d[1]), y(d[2]), d[0], 5, {fill: "#6a88b0", anchor: "middle"}); });
  volcLabelsUp.forEach(function(d) { txt(g, x(d[1]), y(d[2]), d[0], 5, {fill: "#e03030", anchor: "middle"}); });
  txt(g, 940, 36, "treated VS control", 13, {bold: true, anchor: "middle", fill: "#222"});
  txt(g, 933, 225, "log2FoldChange", 6.5, {anchor: "middle", fill: "#444"});
  txt(g, 842, 125, "-log10(p-value)", 6.5, {anchor: "middle", fill: "#444", rot: -90});
  txt(g, 1018, 115, "type", 6.5, {fill: "#333"});
  [["down", "#3f6fa5"], ["notsig", "#bdbdbd"], ["up", "#e0252a"]].forEach(function(d, i) {
    g.append("circle").attr("cx", 1021).attr("cy", 123 + i * 7.5).attr("r", 1).attr("fill", d[1]);
    txt(g, 1028, 125 + i * 7.5, d[0], 5.5, {fill: "#444"});
  });
})();

// ---------- e: enrichment bubbles ----------
function bubble(cfg) {
  var g = svg.append("g");
  var x = d3.scaleLinear().domain(cfg.xDomain).range([cfg.l, cfg.r]);
  var y = d3.scalePoint().domain(cfg.cats).range([cfg.yTop, cfg.yBot]);
  var color = d3.scaleLinear().domain(cfg.colorDomain).range(["#4a4aff", "#f6dfe2", "#ff0000"]).clamp(true);
  color.barDomain = cfg.barDomain;
  color.fmt = cfg.barFmt;
  var r = d3.scaleSqrt().domain(cfg.countDomain).range(cfg.rRange);
  g.append("rect").attr("x", cfg.l).attr("y", cfg.t).attr("width", cfg.r - cfg.l).attr("height", cfg.b - cfg.t)
    .attr("fill", "none").attr("stroke", "#444").attr("stroke-width", 1);
  g.selectAll(null).data(cfg.p).join("circle")
    .attr("cx", function(d) { return x(d); }).attr("cy", function(d, i) { return y(cfg.cats[i]); })
    .attr("r", function(d, i) { return r(cfg.count[i]); }).attr("fill", function(d) { return color(d); });
  var xa = g.append("g").attr("transform", "translate(0," + cfg.b + ")").call(d3.axisBottom(x).tickValues(cfg.xTicks).tickSize(3).tickPadding(2));
  var ya = g.append("g").attr("transform", "translate(" + cfg.l + ",0)").call(d3.axisLeft(y).tickSize(3).tickPadding(1));
  [xa, ya].forEach(function(a) {
    a.select(".domain").remove();
    a.selectAll("line").attr("stroke", "#444");
    a.selectAll("text").attr("fill", "#444").style("font-family", '"Liberation Sans"');
  });
  xa.selectAll("text").attr("font-size", 7).attr("font-weight", "bold");
  ya.selectAll("text").attr("font-size", 7.5);
  txt(g, cfg.titleX, cfg.titleY, cfg.title, 10, {anchor: "middle", fill: "#444"});
  txt(g, (cfg.l + cfg.r) / 2, cfg.b + 22, "-Log10(P)", 7.2, {anchor: "middle", bold: true, fill: "#444"});
  colorbar(cfg.barX, cfg.barT, cfg.barB, 12.5, color, cfg.barTicks, 7.5);
  g.append("rect").attr("x", cfg.barX).attr("y", cfg.barT).attr("width", 12.5).attr("height", cfg.barB - cfg.barT).attr("fill", "none").attr("stroke", "#777").attr("stroke-width", .4);
  txt(g, cfg.barX + 18, cfg.barT - 6, "-Log10(P)", 7.2, {anchor: "middle", fill: "#444"});
  txt(g, cfg.dotX + 4, cfg.barT - 6, "Count", 7.2, {anchor: "middle", fill: "#444"});
  cfg.legend.forEach(function(d, i) {
    g.append("circle").attr("cx", cfg.dotX).attr("cy", cfg.legendY[i]).attr("r", r(d)).attr("fill", "#000");
    txt(g, cfg.dotX + 10.5, cfg.legendY[i] + 2.5, d.toFixed(2), 7.2, {fill: "#444"});
  });
}
bubble({cats: enrichDownCats, p: enrichDownP, count: enrichDownCount, xDomain: [0, 10], xTicks: [0, 2, 4, 6, 8, 10],
  l: 251, r: 349, t: 310, b: 399, yTop: 319.3, yBot: 390,
  colorDomain: [4.8, 5.75, 6.75], barDomain: [4.76, 6.74], barFmt: function(d) { return d.toFixed(1); }, barTicks: [5, 5.5, 6, 6.5], barX: 373, barT: 311, barB: 402,
  countDomain: [0, 34], rRange: [0, 6], legend: [7, 15.43, 34], legendY: [316, 327, 340], dotX: 425,
  title: "Enrichment  analysis of downregulated  genes", titleX: 319, titleY: 289});
bubble({cats: enrichUpCats, p: enrichUpP, count: enrichUpCount, xDomain: [0, 15], xTicks: [0, 5, 10, 15],
  l: 254, r: 356, t: 461, b: 552, yTop: 471, yBot: 542,
  colorDomain: [7.4, 9.7, 11.4], barDomain: [7.4, 11.4], barFmt: plainFmt, barTicks: [8, 9, 10, 11], barX: 379, barT: 462, barB: 554,
  countDomain: [0, 26], rRange: [0, 4.1], legend: [18, 21.63, 26], legendY: [467, 478, 490], dotX: 431,
  title: "Enrichment  analysis of upregulated  genes", titleX: 319, titleY: 440});

// ---------- f, g, nk, h, i: heatmaps ----------
heatmap({genes: oxGenes, values: oxValues, x0: 481, x1: 603, font: 7.6,
  blocks: [[0, 14, 282, 397], [15, 38, 399, 582]],
  title: "Oxidative Phosphorylation", titleX: 542, titleY: 277,
  tree: [13, [9, [6, 0, 1], comb(2, 14, 8)], [10, [6, 15, 16], comb(17, 38, 9)]]});
colorbar(650, 282, 358, 6, heatColor, [-2, -1, 0, 1, 2], 7);

heatmap({genes: cytoGenes, values: cytoValues, x0: 686, x1: 809, font: 7.6,
  blocks: [[0, 3, 273, 304], [4, 30, 306, 514]],
  title: "Cytokine Mediated Signaling", titleX: 747, titleY: 268, titleSize: 10,
  tree: [15, [8, [5, 0, 1], [5, 2, 3]], [12, [9, comb(4, 7, 6), comb(8, 11, 6)], [10, comb(12, 14, 7), comb(15, 30, 9)]]]});
colorbar(837, 273, 349, 6, heatColor, [-2, -1, 0, 1, 2], 7);

heatmap({genes: nkGenes, values: nkValues, x0: 683, x1: 805, font: 7.6,
  blocks: [[0, 7, 590, 652], [8, 11, 653, 684]],
  title: "NK Differentiation", titleX: 744, titleY: 586,
  tree: [14, comb(0, 7, 10), [9, [6, 8, 9], [6, 10, 11]]]});
colorbar(835, 590, 667, 6, heatColor, [-2, -1, 0, 1, 2], 7);

heatmap({genes: mapkGenes, values: mapkValues, x0: 888, x1: 1003, font: 7,
  blocks: [[0, 0, 252, 259], [1, 70, 261, 765]],
  title: "MAPK", titleX: 946, titleY: 248, titleSize: 8.5,
  tree: [15, 0, [13, [4, comb(1, 8, 3), comb(9, 17, 3)], [6, comb(18, 44, 5), comb(45, 70, 4)]]]});
colorbar(1042, 252, 323, 5, heatColor, [-2, -1, 0, 1, 2], 6.5);

heatmap({genes: tgfGenes, values: tgfValues, x0: 44, x1: 172, font: 7.8,
  blocks: [[0, 36, 642, 938], [37, 44, 940, 1003]],
  title: "TGF-\u00df", titleX: 114, titleY: 634, titleSize: 10,
  tree: [16, [12, comb(0, 2, 6), [9, comb(3, 19, 7), comb(20, 36, 8)]], [11, 37, [9, 38, [6, comb(39, 40, 3), comb(41, 44, 4)]]]]});
colorbar(211, 642, 722, 6, heatColor, [-2, -1, 0, 1, 2], 7);

// ---------- j: GO network ----------
(function() {
  var g = svg.append("g");
  var x = d3.scaleLinear().domain([-1, 1]).range([274, 553]);
  var y = d3.scaleLinear().domain([-1, 1]).range([941, 661]);
  var r = d3.scaleLog().domain([.01, .1, 1, 10]).range([1.5, 3, 7, 13.7]);
  var left = 260, right = 567, top = 647, bot = 954;
  [-.75, -.25, .25, .75].forEach(function(v) {
    g.append("line").attr("x1", x(v)).attr("x2", x(v)).attr("y1", top).attr("y2", bot).attr("stroke", "#f6f6f6").attr("stroke-width", .5);
    g.append("line").attr("y1", y(v)).attr("y2", y(v)).attr("x1", left).attr("x2", right).attr("stroke", "#f6f6f6").attr("stroke-width", .5);
  });
  [-1, -.5, 0, .5, 1].forEach(function(v) {
    g.append("line").attr("x1", x(v)).attr("x2", x(v)).attr("y1", top).attr("y2", bot).attr("stroke", "#eee").attr("stroke-width", .7);
    g.append("line").attr("y1", y(v)).attr("y2", y(v)).attr("x1", left).attr("x2", right).attr("stroke", "#eee").attr("stroke-width", .7);
  });
  goNames.forEach(function(n, i) {
    g.append("line").attr("x1", x(0)).attr("y1", y(0)).attr("x2", x(goX[i])).attr("y2", y(goY[i])).attr("stroke", "#f0c890").attr("stroke-opacity", .7).attr("stroke-width", .7);
    goLeaves[i].forEach(function(l) {
      var px = x(goX[i]), py = y(goY[i]), lx = x(l[0]), ly = y(l[1]);
      var c1x = px + (x(l[0] * .72) - px) * .35, c1y = py + (y(l[1] * .72) - py) * .35;
      var c2x = x(l[0] * .78), c2y = y(l[1] * .78);
      g.append("path").attr("d", "M" + px + "," + py + "C" + c1x + "," + c1y + " " + c2x + "," + c2y + " " + lx + "," + ly)
        .attr("fill", "none").attr("stroke", goFill[i]).attr("stroke-opacity", .38).attr("stroke-width", .6);
    });
  });
  goNames.forEach(function(n, i) {
    g.append("circle").attr("cx", x(goX[i])).attr("cy", y(goY[i])).attr("r", r(goSize[i])).attr("fill", goFill[i]).attr("fill-opacity", i === 4 ? .75 : .62);
    goLeaves[i].forEach(function(l) {
      g.append("circle").attr("cx", x(l[0])).attr("cy", y(l[1])).attr("r", r(l[2])).attr("fill", goFill[i]).attr("fill-opacity", .55);
      var ang = Math.atan2(l[1], l[0]) * 180 / Math.PI;
      var flip = l[0] < 0;
      var ca = Math.cos(ang * Math.PI / 180), sa = Math.sin(ang * Math.PI / 180);
      txt(g, x(l[0]) + ca * 1.5, y(l[1]) - sa * 1.5 + 1, l[3], 3.6, {fill: goText[i], anchor: flip ? "end" : "start", rot: flip ? 180 - ang : -ang}).attr("fill-opacity", .75);
    });
  });
  var labelDx = [0, 0, 0, -6, 7, 0, 0, 0], labelDy = [0, 0, 0, -1, 2, 0, 0, 0];
  goNames.forEach(function(n, i) {
    txt(g, x(goX[i]) + labelDx[i], y(goY[i]) + 2 + labelDy[i], n, i === 3 || i === 4 ? 5.6 : 6.4, {anchor: "middle", fill: goText[i]});
  });
  txt(g, x(0), y(0) + 2.2, "GO", 6, {anchor: "middle", fill: "#e8a030"});
  g.append("rect").attr("x", left).attr("y", top).attr("width", right - left).attr("height", bot - top).attr("fill", "none").attr("stroke", "#aaa").attr("stroke-width", 1);
  var tf = function(d) { return d.toFixed(1); };
  var xa = g.append("g").attr("transform", "translate(0," + bot + ")").call(d3.axisBottom(x).tickValues([-1, -.5, 0, .5, 1]).tickSize(1.5).tickPadding(2).tickFormat(tf));
  var ya = g.append("g").attr("transform", "translate(" + left + ",0)").call(d3.axisLeft(y).tickValues([-1, -.5, 0, .5, 1]).tickSize(1.5).tickPadding(1).tickFormat(tf));
  [xa, ya].forEach(function(a) {
    a.select(".domain").remove();
    a.selectAll("text").attr("font-size", 4.5).attr("fill", "#777").style("font-family", '"Liberation Sans"');
    a.selectAll("line").attr("stroke", "#999");
  });
  txt(g, 413, 969, "x", 4.5, {anchor: "middle", fill: "#777"});
  txt(g, 246, 801, "y", 4.5, {anchor: "middle", fill: "#777", rot: -90});
  txt(g, 422, 642, "LSC-Exo vs control", 14, {bold: true, anchor: "middle", fill: "#222"});
  txt(g, 573, 658, "Fold Change", 13.5, {fill: "#333"});
  var lgY = [681, 707, 740];
  foldLegend.forEach(function(f, i) {
    g.append("circle").attr("cx", 583).attr("cy", lgY[i]).attr("r", r(f)).attr("fill", "#999");
    txt(g, 606, lgY[i] + 5, String(f), 13, {fill: "#333"});
  });
  function mark(mx, my, c) {
    g.append("rect").attr("x", mx).attr("y", my - 7).attr("width", 5.5).attr("height", 6.5).attr("rx", 1).attr("fill", c).attr("fill-opacity", .8);
    txt(g, mx + 2.75, my - 1.8, "a", 5, {anchor: "middle", fill: d3.color(c).darker(.6).formatHex()});
  }
  var ly1 = [980, 997, 1015, 1033, 1050, 1068];
  goLegend1.forEach(function(t, i) {
    mark(222.5, ly1[i], goLegendColors1[i]);
    txt(g, 233, ly1[i], t, 10.8, {fill: "#333"});
  });
  [991, 1007].forEach(function(yy, i) {
    mark(362, yy - 2, goLegendColors2[i]);
    txt(g, 373, yy, goLegend2[i], 10.8, {fill: "#333"});
  });
})();

// ---------- k: z-score heatmap ----------
(function() {
  var g = svg.append("g");
  var cols = d3.range(zValues[0].length), rows = d3.range(zValues.length);
  var x = d3.scaleBand().domain(cols).range([646, 1053]);
  var y = d3.scaleBand().domain(rows).range([851, 1012]);
  var color = d3.scaleLinear().domain([-1.27, 0, 2.27]).range(["#0000ff", "#ffffff", "#ff0000"]).clamp(true);
  zValues.forEach(function(row, r) {
    g.selectAll(null).data(row).join("rect").attr("x", function(d, i) { return x(i); }).attr("y", y(r))
      .attr("width", x.bandwidth() + .3).attr("height", y.bandwidth() + .2).attr("fill", function(d) { return color(d); });
  });
  var off = 0;
  zGroups.forEach(function(d) {
    var h = y.bandwidth() * d[1];
    g.append("rect").attr("x", 632).attr("y", y(off)).attr("width", 14).attr("height", h).attr("fill", d[2]);
    txt(g, 641.5, y(off) + h / 2, d[0], 6.5, {anchor: "middle", fill: d[0] === "sham" ? "#222" : "#fff", rot: -90});
    off += d[1];
  });
  var xLabel = d3.scaleLinear().domain([0, 31]).range([657, 1051]);
  zLabels.forEach(function(d) {
    var px = xLabel(d[1]);
    txt(g, px + 2, 1014, d[0], 7, {anchor: "end", fill: "#777", rot: -90});
  });
  var leafX = d3.scaleLinear().domain([0, 243]).range([647, 1052]);
  var tree = [36,
    [21, [15, comb(0, 76, 8), comb(77, 139, 7)], comb(140, 144, 3)],
    [26, [9, comb(145, 171, 6), comb(172, 175, 3)], [18, [12, comb(176, 197, 5), comb(198, 209, 5)], [16, comb(210, 235, 6), comb(236, 243, 6)]]]];
  dendro(tree, leafX, 851, "top", "#333", .5);
  var rowTree = [16, [12, 0, [10, 1, 2]], [7, [3, 3, [2, 4, 5]], 6]];
  dendro(rowTree, function(i) { return y(i) + y.bandwidth() / 2; }, 631, "left", "#666", .7);

  var lg = d3.scaleLinear().domain([-1.27, 0, 2.27]).range([702, 726, 772]);
  d3.range(702, 772, 1).forEach(function(px) {
    g.append("rect").attr("x", px).attr("y", 803).attr("width", 1.2).attr("height", 8).attr("fill", color(lg.invert(px)));
  });
  txt(g, 736, 800, "Z-score", 6.5, {anchor: "middle", fill: "#777"});
  [[-1.27, "-1.27"], [0, "0"], [2.27, "2.27"]].forEach(function(d, i) {
    txt(g, lg(d[0]) + (i === 0 ? 5 : i === 2 ? -6 : 0), 819, d[1], 5.5, {anchor: "middle", fill: "#777"});
  });
})();
</script>
</body>
</html>
